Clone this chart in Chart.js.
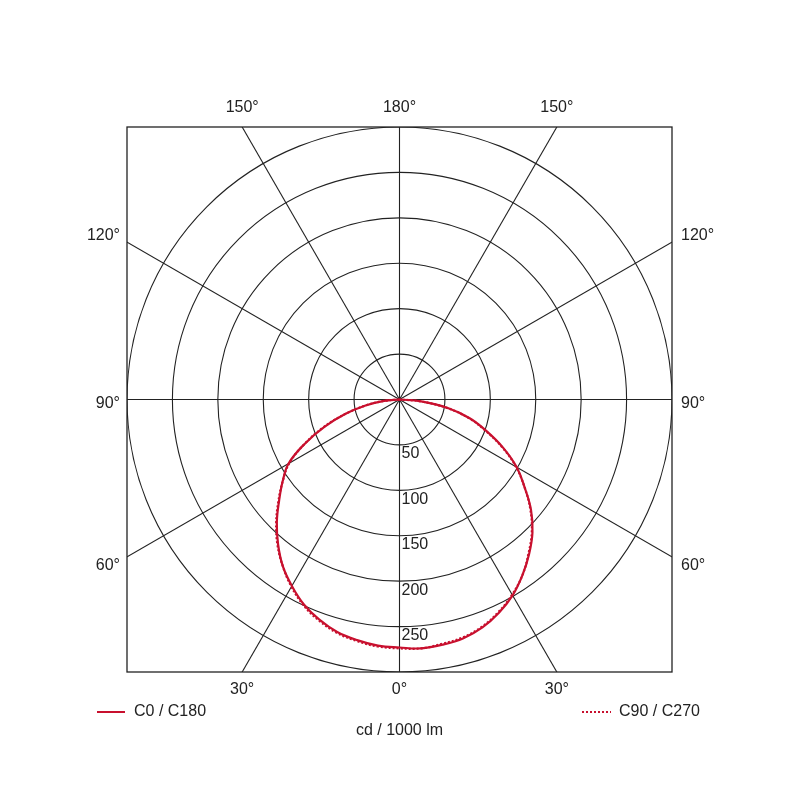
<!DOCTYPE html>
<html>
<head>
<meta charset="utf-8">
<script src="https://cdn.jsdelivr.net/npm/chart.js@4"></script>
<style>
  body { margin: 0; background: #fff; }
  #wrap { width: 800px; height: 800px; }
</style>
</head>
<body>
<div id="wrap"><canvas id="polarChart" width="800" height="800"></canvas></div>
<script>
// gamma angles (deg from nadir) and intensities in cd / 1000 lm
const gammaAngles = [0, 5, 10, 15, 20, 25, 30, 35, 40, 45, 50, 55, 60, 65, 70, 75, 80, 85, 90];
const c0Values   = [275, 275, 274, 272, 267, 259, 249, 236, 222, 207, 189, 168, 149, 126, 102, 80, 54, 24, 0];
const c180Values = [273, 272, 269, 265, 258, 249, 237, 224, 208, 191, 173, 157, 141, 115, 88, 62, 38, 17, 0];
const c90Values  = [275, 275, 273, 271, 266, 258, 248, 236, 221, 206, 188, 168, 148, 125, 101, 79, 53, 23, 0];
const c270Values = [274, 273, 270, 266, 259, 250, 238, 224, 209, 192, 174, 157, 140, 115, 89, 62, 38, 17, 0];

const ringValues = [50, 100, 150, 200, 250, 300];
const ringLabels = ['50', '100', '150', '200', '250'];
const spokeAngles = [0, 30, 60, 90, 120, 150, 180, 210, 240, 270, 300, 330];
const maxValue = 300;

const red = '#c8102e';
const ink = '#222';
const font = '16px "Liberation Sans", Arial, sans-serif';

// turn one C-plane pair into x/y points (left half, then right half)
function toPoints(leftVals, rightVals) {
  const pts = [];
  for (let i = gammaAngles.length - 1; i >= 0; i--) {
    const a = gammaAngles[i] * Math.PI / 180;
    pts.push({ x: -leftVals[i] * Math.sin(a), y: -leftVals[i] * Math.cos(a) });
  }
  for (let i = 1; i < gammaAngles.length; i++) {
    const a = gammaAngles[i] * Math.PI / 180;
    pts.push({ x: rightVals[i] * Math.sin(a), y: -rightVals[i] * Math.cos(a) });
  }
  return pts;
}

const polarGrid = {
  id: 'polarGrid',
  beforeDatasetsDraw(chart) {
    const { ctx, chartArea, scales } = chart;
    const cx = scales.x.getPixelForValue(0);
    const cy = scales.y.getPixelForValue(0);
    const unit = scales.x.getPixelForValue(1) - cx;
    ctx.save();
    ctx.beginPath();
    ctx.rect(chartArea.left, chartArea.top, chartArea.width, chartArea.height);
    ctx.clip();
    ctx.strokeStyle = ink;
    ctx.lineWidth = 1.1;
    ringValues.forEach((v) => {
      ctx.beginPath();
      ctx.arc(cx, cy, v * unit, 0, Math.PI * 2);
      ctx.stroke();
    });
    spokeAngles.forEach((deg) => {
      const a = deg * Math.PI / 180;
      const len = maxValue * 2 * unit;
      ctx.beginPath();
      ctx.moveTo(cx, cy);
      ctx.lineTo(cx + Math.sin(a) * len, cy + Math.cos(a) * len);
      ctx.stroke();
    });
    ctx.restore();

    // ring value labels below the centre
    ctx.save();
    ctx.font = font;
    ctx.fillStyle = ink;
    ctx.textAlign = 'left';
    ctx.textBaseline = 'top';
    ringLabels.forEach((t, i) => {
      ctx.fillText(t, cx + 2, cy + ringValues[i] * unit + 1);
    });
    ctx.restore();
  },
  afterDraw(chart) {
    const { ctx, chartArea } = chart;
    const { left, right, top, bottom } = chartArea;
    const midX = (left + right) / 2;
    const midY = (top + bottom) / 2;
    const off = (right - left) / 2 * Math.tan(Math.PI / 6);
    ctx.save();
    ctx.strokeStyle = ink;
    ctx.lineWidth = 1.3;
    ctx.strokeRect(left, top, right - left, bottom - top);

    ctx.font = font;
    ctx.fillStyle = ink;
    ctx.textBaseline = 'middle';
    ctx.textAlign = 'center';
    ctx.fillText('150°', midX - off, top - 19);
    ctx.fillText('180°', midX, top - 19);
    ctx.fillText('150°', midX + off, top - 19);
    ctx.fillText('30°', midX - off, bottom + 18);
    ctx.fillText('0°', midX, bottom + 18);
    ctx.fillText('30°', midX + off, bottom + 18);

    ctx.textAlign = 'right';
    ctx.fillText('120°', left - 7, midY - off - 7);
    ctx.fillText('90°', left - 7, midY + 4);
    ctx.fillText('60°', left - 7, midY + off + 9);
    ctx.textAlign = 'left';
    ctx.fillText('120°', right + 9, midY - off - 7);
    ctx.fillText('90°', right + 9, midY + 4);
    ctx.fillText('60°', right + 9, midY + off + 9);

    // legend
    ctx.lineWidth = 2;
    ctx.strokeStyle = red;
    ctx.beginPath();
    ctx.moveTo(97, 712);
    ctx.lineTo(125, 712);
    ctx.stroke();
    ctx.fillText(chart.data.datasets[0].label, 134, 712);

    ctx.setLineDash([2, 2]);
    ctx.beginPath();
    ctx.moveTo(582, 712);
    ctx.lineTo(611, 712);
    ctx.stroke();
    ctx.setLineDash([]);
    ctx.fillText(chart.data.datasets[1].label, 619, 712);

    ctx.textAlign = 'center';
    ctx.fillText('cd / 1000 lm', midX, 731);
    ctx.restore();
  }
};

const ctx = document.getElementById('polarChart').getContext('2d');
new Chart(ctx, {
  type: 'scatter',
  data: {
    datasets: [
      {
        label: 'C0 / C180',
        data: toPoints(c180Values, c0Values),
        showLine: true,
        borderColor: red,
        borderWidth: 2.2,
        pointRadius: 0,
        tension: 0.4
      },
      {
        label: 'C90 / C270',
        data: toPoints(c270Values, c90Values),
        showLine: true,
        borderColor: red,
        borderWidth: 2.2,
        borderDash: [2, 2],
        pointRadius: 0,
        tension: 0.4
      }
    ]
  },
  options: {
    responsive: false,
    animation: false,
    layout: { padding: { left: 127, top: 127, right: 128, bottom: 128 } },
    scales: {
      x: { type: 'linear', min: -maxValue, max: maxValue, display: false },
      y: { type: 'linear', min: -maxValue, max: maxValue, display: false }
    },
    plugins: {
      legend: { display: false },
      tooltip: { enabled: false }
    }
  },
  plugins: [polarGrid]
});
</script>
</body>
</html>
